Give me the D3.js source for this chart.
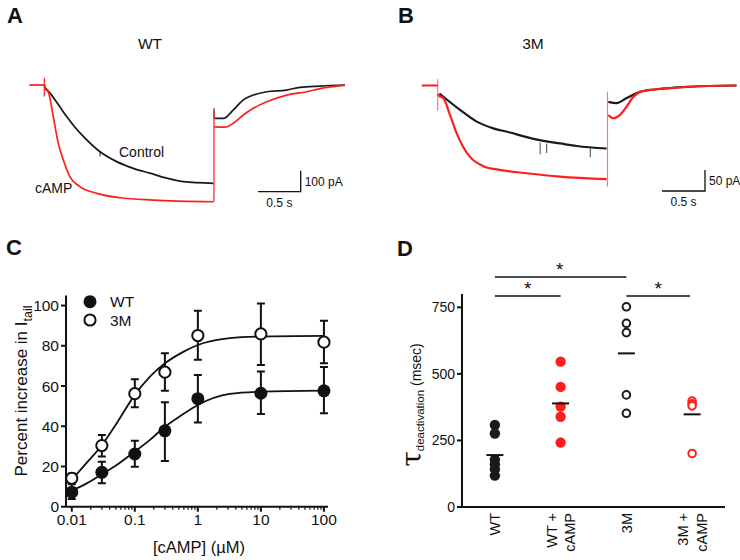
<!DOCTYPE html>
<html><head><meta charset="utf-8">
<script src="https://cdn.jsdelivr.net/npm/d3@7/dist/d3.min.js"></script>
<style>body{margin:0;background:#fff}svg{display:block}</style>
</head><body><svg width="740" height="560"></svg>
<script>
// ---------- DATA ----------
// Panel A (WT) traces: [time s, current pA]
const wtCtrlAct = [[0.176,0],[0.184,-12],[0.243,-38],[0.30,-70],[0.36,-105],[0.438,-150],[0.533,-200],[0.633,-245],[0.829,-318],[1.025,-365],[1.219,-397],[1.415,-420],[1.611,-444],[1.805,-460],[2.16,-468]];
const wtCtrlTail = [[2.17,-159],[2.275,-159],[2.392,-119],[2.509,-71],[2.626,-48],[2.783,-32],[3.017,-24],[3.173,-11],[3.41,-5],[3.70,0]];
const wtCampAct = [[0.18,-10],[0.223,-32],[0.281,-151],[0.34,-278],[0.399,-357],[0.477,-437],[0.594,-484],[0.79,-516],[1.063,-537],[1.454,-548],[2.16,-556]];
const wtCampTail = [[2.17,-199],[2.294,-201],[2.392,-182],[2.509,-143],[2.626,-111],[2.783,-80],[3.017,-48],[3.251,-32],[3.408,-17],[3.70,-2]];
const wtBaseline = [[0,0],[0.176,0]];
const wtCampSpikes = [[0.176,35,-55],[2.165,-556,-119]];
const wtCtrlSpikes = [[2.166,-110,-159],[0.829,-318,-340]];
// Panel B (3M) traces
const mCtrlAct = [[0.205,-19],[0.445,-58],[0.640,-86],[0.833,-102],[1.027,-112],[1.221,-123],[1.414,-132],[1.608,-138],[1.802,-144],[2.151,-150]];
const mCtrlTail = [[2.170,-39],[2.267,-42],[2.384,-30],[2.538,-15],[2.733,-9],[3.12,-3],[3.66,0]];
const mCampAct = [[0.19,-20],[0.205,-25],[0.251,-30],[0.329,-70],[0.407,-114],[0.484,-147],[0.562,-170],[0.716,-192],[0.909,-201],[1.221,-209],[1.608,-217],[2.151,-223]];
const mCampTail = [[2.170,-70],[2.228,-78],[2.306,-70],[2.384,-50],[2.461,-27],[2.577,-13],[2.733,-9],[3.12,-3],[3.66,0]];
const mBaseline = [[0,0],[0.186,0]];
const mCampSpikes = [[0.186,15,-60],[2.16,-241,-15]];
const mCtrlSpikes = [[1.377,-136,-164],[1.453,-138,-161],[1.96,-146,-171]];

// Panel C: dose-response
const concentrations = [0.01, 0.03, 0.1, 0.3, 1, 10, 100];
const wtMean = [7.2, 17.1, 26.2, 37.7, 53.7, 56.4, 57.6];
const wtErrHi = [11.1, 22.4, 32.8, 51.9, 65.5, 67.2, 69.4];
const wtErrLo = [3.8, 11.6, 19.9, 22.7, 41.8, 46.1, 46.5];
const mMean = [14.1, 30.4, 56.2, 66.9, 85.1, 85.9, 81.8];
const mErrHi = [16.5, 35.7, 63.4, 76.3, 97.4, 101, 92.4];
const mErrLo = [12, 24.9, 49.5, 57.7, 73, 70.5, 71.3];
const fitConc = [0.01, 0.0173, 0.0298, 0.0516, 0.1, 0.174, 0.301, 0.557, 1, 3.2, 10, 100];
const wtFit = [8.0, 11.6, 16.1, 20.7, 27.4, 33.2, 39.8, 45.6, 50.6, 56.1, 57.2, 57.7];
const mFit = [13.3, 21.9, 30.4, 41.5, 55.6, 64.7, 71.3, 76.6, 80.4, 83.8, 84.6, 84.9];
const cYTicks = [0, 20, 40, 60, 80, 100];
const cXTicks = [0.01, 0.1, 1, 10, 100];
const cXTickLabels = ["0.01", "0.1", "1", "10", "100"];

// Panel D: tau deactivation
const groups = ["WT", "WT + cAMP", "3M", "3M + cAMP"];
const groupLines = [["WT"], ["WT +", "cAMP"], ["3M"], ["3M +", "cAMP"]];
const wtTau = [308, 276, 178, 160, 142, 118];
const wtCampTau = [546, 451, 377, 339, 242];
const mTau = [752, 690, 655, 421, 352];
const mCampTau = [398, 388, 380, 201];
const tauMeans = [195, 389, 577, 348];
const dYTicks = [0, 250, 500, 750];
const sigPairs = [["WT", "3M"], ["WT", "WT + cAMP"], ["3M", "3M + cAMP"]];
const sigTier = [1, 0, 0];

// ---------- DRAWING ----------
const FONT = '"Liberation Sans", Arial, Helvetica, sans-serif';
const RED = "#ff1e1e", BLK = "#1a1a1a";
const svg = d3.select("svg").style("font-family", FONT);
svg.append("rect").attr("width", 740).attr("height", 560).attr("fill", "#fff");

function label(x, y, txt, size, opts = {}) {
  return svg.append("text").attr("x", x).attr("y", y).text(txt)
    .attr("font-size", size).attr("fill", "#111")
    .attr("font-weight", opts.bold ? "bold" : null)
    .attr("text-anchor", opts.anchor || "start");
}

// panel letters
label(7, 23, "A", 22, {bold: true});
label(398, 23, "B", 22, {bold: true});
label(6, 255, "C", 22, {bold: true});
label(397, 256, "D", 22, {bold: true});

// ---- traces ----
function tracePanel(xS, yS, parts) {
  const g = svg.append("g");
  const line = d3.line().x(d => xS(d[0])).y(d => yS(d[1])).curve(d3.curveMonotoneX);
  parts.forEach(p => {
    if (p.spikes) {
      g.selectAll(null).data(p.spikes).enter().append("line")
        .attr("x1", d => xS(d[0])).attr("x2", d => xS(d[0]))
        .attr("y1", d => yS(d[1])).attr("y2", d => yS(d[2]))
        .attr("stroke", p.color).attr("stroke-width", p.w || 1.2).attr("opacity", p.op || 1);
    } else {
      g.append("path").datum(p.data).attr("d", line).attr("fill", "none")
        .attr("stroke", p.color).attr("stroke-width", p.w || 1.7).attr("stroke-linejoin", "round");
    }
  });
  return g;
}

const tA = d3.scaleLinear().domain([0, 1]).range([29.3, 29.3 + 85.3]);
const iA = d3.scaleLinear().domain([0, -100]).range([85, 106]);
tracePanel(tA, iA, [
  {data: wtCtrlAct, color: BLK, w: 1.8}, {data: wtCtrlTail, color: BLK}, {spikes: wtCtrlSpikes, color: BLK, w: 1},
  {data: wtBaseline, color: RED}, {data: wtCampAct, color: RED}, {data: wtCampTail, color: RED},
  {spikes: wtCampSpikes, color: RED}
]);
const tB = d3.scaleLinear().domain([0, 1]).range([421.7, 507.7]);
const iB = d3.scaleLinear().domain([0, -50]).range([85.5, 106.5]);
tracePanel(tB, iB, [
  {data: mCtrlAct, color: BLK, w: 2.2}, {data: mCtrlTail, color: BLK, w: 2.2}, {spikes: mCtrlSpikes, color: "#444", w: 1},
  {data: mBaseline, color: RED, w: 2}, {data: mCampAct, color: RED, w: 2.2}, {data: mCampTail, color: RED, w: 2.2},
  {spikes: mCampSpikes, color: RED, op: 0.6}
]);

// titles and labels
label(150, 49, "WT", 15.5, {anchor: "middle"});
label(533, 49, "3M", 15.5, {anchor: "middle"});
label(119, 157, "Control", 14);
label(35, 193, "cAMP", 14);

// scale bars
function scaleBar(cx, cy, xS, yS, tLen, iLen, iTxt) {
  const w = xS(tLen) - xS(0), h = yS(-iLen) - yS(0);
  svg.append("path").attr("d", `M${cx - w},${cy}H${cx}V${cy - h}`)
    .attr("fill", "none").attr("stroke", "#111").attr("stroke-width", 1.3);
  label(cx + 4, cy - h / 2 + 4.5, iTxt, 12);
  label(cx - w / 2, cy + 15, "0.5 s", 12, {anchor: "middle"});
}
scaleBar(300.7, 191.7, tA, iA, 0.5, 100, "100 pA");
scaleBar(705, 191, tB, iB, 0.5, 50, "50 pA");

// ---- Panel C ----
const cx = d3.scaleLog().domain([0.0081, 116]).range([66, 328]);
const cy = d3.scaleLinear().domain([0, 105]).range([506.7, 295.5]);
const gC = svg.append("g");
gC.append("line").attr("x1", 66).attr("x2", 66).attr("y1", cy(0)).attr("y2", cy(105)).attr("stroke", "#111").attr("stroke-width", 2);
gC.append("line").attr("x1", 66).attr("x2", 328).attr("y1", cy(0)).attr("y2", cy(0)).attr("stroke", "#111").attr("stroke-width", 2);
gC.selectAll(null).data(cYTicks).enter().append("line")
  .attr("x1", 61).attr("x2", 66).attr("y1", d => cy(d)).attr("y2", d => cy(d)).attr("stroke", "#111").attr("stroke-width", 2);
gC.selectAll(null).data(cYTicks).enter().append("text")
  .attr("x", 59).attr("y", d => cy(d) + 5.5).attr("text-anchor", "end").attr("font-size", 15.5).attr("fill", "#111").text(d => d);
const minor = [];
cXTicks.forEach((d, i) => { if (i < cXTicks.length - 1) for (let k = 2; k <= 9; k++) minor.push(d * k); });
gC.selectAll(null).data(minor).enter().append("line")
  .attr("x1", d => cx(d)).attr("x2", d => cx(d)).attr("y1", cy(0)).attr("y2", cy(0) + 3).attr("stroke", "#111").attr("stroke-width", 1.2);
gC.selectAll(null).data(cXTicks).enter().append("line")
  .attr("x1", d => cx(d)).attr("x2", d => cx(d)).attr("y1", cy(0)).attr("y2", cy(0) + 5).attr("stroke", "#111").attr("stroke-width", 2);
gC.selectAll(null).data(cXTicks).enter().append("text")
  .attr("x", d => cx(d)).attr("y", 525).attr("text-anchor", "middle").attr("font-size", 15.5).attr("fill", "#111")
  .text((d, i) => cXTickLabels[i]);
label(199, 553, "[cAMP] (\u00b5M)", 16.5, {anchor: "middle"});
const ylab = svg.append("text").attr("transform", "translate(27,391) rotate(-90)").attr("text-anchor", "middle")
  .attr("font-size", 17).attr("fill", "#111");
ylab.append("tspan").text("Percent increase in I");
ylab.append("tspan").text("tail").attr("font-size", 12.5).attr("dy", 5);

function errBars(means, lo, hi) {
  concentrations.forEach((c, i) => {
    const x = cx(c);
    gC.append("path").attr("d", `M${x},${cy(lo[i])}V${cy(hi[i])}M${x - 4},${cy(hi[i])}H${x + 4}M${x - 4},${cy(lo[i])}H${x + 4}`)
      .attr("stroke", "#111").attr("stroke-width", 2).attr("fill", "none");
  });
}
errBars(wtMean, wtErrLo, wtErrHi);
errBars(mMean, mErrLo, mErrHi);
const fitLine = d3.line().x(d => cx(d[0])).y(d => cy(d[1])).curve(d3.curveMonotoneX);
gC.append("path").datum(fitConc.map((c, i) => [c, wtFit[i]])).attr("d", fitLine).attr("fill", "none").attr("stroke", "#111").attr("stroke-width", 1.8);
gC.append("path").datum(fitConc.map((c, i) => [c, mFit[i]])).attr("d", fitLine).attr("fill", "none").attr("stroke", "#111").attr("stroke-width", 1.8);
gC.selectAll(null).data(concentrations).enter().append("circle")
  .attr("cx", d => cx(d)).attr("cy", (d, i) => cy(wtMean[i])).attr("r", 6.5).attr("fill", "#111");
gC.selectAll(null).data(concentrations).enter().append("circle")
  .attr("cx", d => cx(d)).attr("cy", (d, i) => cy(mMean[i])).attr("r", 5.6).attr("fill", "#fff").attr("stroke", "#111").attr("stroke-width", 2);
// legend
gC.append("circle").attr("cx", 90).attr("cy", 301.7).attr("r", 6.5).attr("fill", "#111");
gC.append("circle").attr("cx", 90).attr("cy", 320).attr("r", 5.6).attr("fill", "#fff").attr("stroke", "#111").attr("stroke-width", 2);
label(110, 307, "WT", 15.5);
label(110, 326, "3M", 15.5);

// ---- Panel D ----
const dx = d3.scalePoint().domain(groups).range([462, 725]).padding(0.5);
const dy = d3.scaleLinear().domain([0, 800]).range([507, 294]);
const gD = svg.append("g");
gD.append("line").attr("x1", 462).attr("x2", 462).attr("y1", dy(800)).attr("y2", dy(0) + 1).attr("stroke", "#111").attr("stroke-width", 2);
gD.append("line").attr("x1", 457).attr("x2", 725).attr("y1", dy(0)).attr("y2", dy(0)).attr("stroke", "#111").attr("stroke-width", 2);
gD.selectAll(null).data(dYTicks).enter().append("line")
  .attr("x1", 457).attr("x2", 462).attr("y1", d => dy(d)).attr("y2", d => dy(d)).attr("stroke", "#111").attr("stroke-width", 2);
gD.selectAll(null).data(dYTicks).enter().append("text")
  .attr("x", 455).attr("y", d => dy(d) + 5).attr("text-anchor", "end").attr("font-size", 14).attr("fill", "#111").text(d => d);
groups.forEach((gname, gi) => {
  const lines = groupLines[gi];
  const t = gD.append("text").attr("transform", `translate(${dx(gname)},513) rotate(-90)`)
    .attr("text-anchor", "end").attr("font-size", 14.5).attr("fill", "#111");
  lines.forEach((ln, li) => {
    const off = (li - (lines.length - 1) / 2) * 18.5;
    t.append("tspan").attr("x", 0).attr("y", off + 5.2).text(ln);
  });
});
const dlab = svg.append("text").attr("transform", "translate(421,405) rotate(-90)").attr("text-anchor", "middle").attr("fill", "#111");
dlab.append("tspan").text("\u03c4").attr("font-size", 28).attr("font-family", '"DejaVu Serif", serif');
dlab.append("tspan").text("deactivation").attr("font-size", 11.5).attr("dy", 3);
dlab.append("tspan").text(" (msec)").attr("font-size", 14).attr("dy", -3);

const tauSets = [wtTau, wtCampTau, mTau, mCampTau];
const tauFilled = [true, true, false, false];
const tauColor = [BLK, RED, BLK, RED];
tauSets.forEach((vals, gi) => {
  const x = dx(groups[gi]);
  gD.selectAll(null).data(vals).enter().append("circle")
    .attr("cx", x).attr("cy", d => dy(d))
    .attr("r", tauFilled[gi] ? 5.2 : 3.8)
    .attr("fill", tauFilled[gi] ? tauColor[gi] : "#fff")
    .attr("stroke", tauFilled[gi] ? "none" : tauColor[gi]).attr("stroke-width", 2);
});
gD.selectAll(null).data(tauMeans).enter().append("line")
  .attr("x1", (d, i) => dx(groups[i]) - 8.5).attr("x2", (d, i) => dx(groups[i]) + 8.5)
  .attr("y1", d => dy(d)).attr("y2", d => dy(d)).attr("stroke", "#111").attr("stroke-width", 2);
sigPairs.forEach((p, i) => {
  const y = 296 - sigTier[i] * 19;
  const x1 = dx(p[0]), x2 = dx(p[1]) - (p[1] === "3M + cAMP" ? 2 : 0);
  gD.append("line").attr("x1", x1).attr("x2", x2).attr("y1", y).attr("y2", y).attr("stroke", "#111").attr("stroke-width", 1.3);
  gD.append("text").attr("x", (x1 + x2) / 2 + (sigTier[i] ? -1 : 0)).attr("y", y - 1).attr("text-anchor", "middle")
    .attr("font-size", 19).attr("fill", "#111").text("*");
});
</script></body></html>
